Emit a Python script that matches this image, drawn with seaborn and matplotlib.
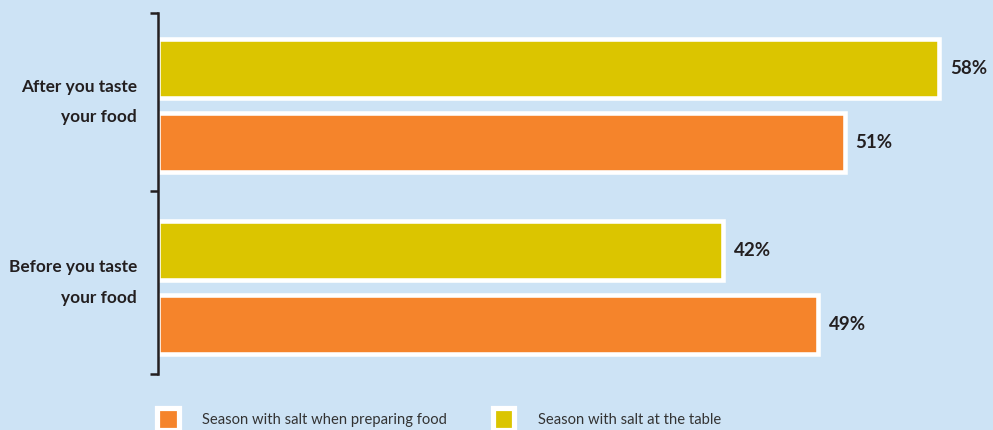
import matplotlib
matplotlib.use("Agg")
import matplotlib.pyplot as plt
import seaborn as sns
import pandas as pd
from matplotlib.patches import Patch

# Survey data: share of respondents (%) per salting habit
questions = ["After you taste\nyour food", "Before you taste\nyour food"]
at_the_table = [58, 42]
when_preparing = [51, 49]
habit_names = ["Season with salt when preparing food", "Season with salt at the table"]

df = pd.DataFrame({
    "question": questions * 2,
    "share": at_the_table + when_preparing,
    "habit": [habit_names[1]] * 2 + [habit_names[0]] * 2,
})

BG = "#cde3f5"
ORANGE = "#f5842b"
YELLOW = "#dbc500"
INK = "#231f20"

sns.set_theme(style="white")
plt.rcParams["font.family"] = ["Lato", "DejaVu Sans"]

W, H = 993, 430
fig = plt.figure(figsize=(W / 100, H / 100), dpi=100, facecolor=BG)
ax = fig.add_axes([157.5 / W, (H - 374) / H, 835.5 / W, 361 / H])
ax.set_facecolor(BG)

sns.barplot(
    data=df, y="question", x="share", hue="habit", order=questions,
    hue_order=[habit_names[1], habit_names[0]], palette=[YELLOW, ORANGE],
    saturation=1, orient="h", width=0.82, gap=0.21, errorbar=None,
    edgecolor="white", linewidth=3.3, legend=False, ax=ax,
)

for container in ax.containers:
    ax.bar_label(container, fmt="{:.0f}%", padding=7.8, fontsize=13.5,
                 fontweight="bold", color=INK)

ax.set_xlim(0, 62)
ylim_top, ylim_bottom = -0.5085, 1.476
ax.set_ylim(ylim_bottom, ylim_top)

# bracket ticks at the group boundaries, labels centred between them
bounds = [ylim_top, 0.47, ylim_bottom]
centers = [(bounds[i] + bounds[i + 1]) / 2 for i in range(2)]
ax.set_yticks(bounds, [""] * 3)
ax.set_yticks(centers, questions, minor=True)
ax.tick_params(axis="y", which="major", length=5.8, width=1.8, color=INK,
               direction="out", left=True)
ax.tick_params(axis="y", which="minor", length=0, pad=14.8, labelsize=12.4,
               labelcolor=INK)
for lbl in ax.get_yticklabels(minor=True):
    lbl.set_fontweight("bold")
    lbl.set_linespacing(2.1)
    lbl.set_verticalalignment("center")

ax.set_xticks([])
ax.set_xlabel("")
ax.set_ylabel("")
for side in ["top", "right", "bottom"]:
    ax.spines[side].set_visible(False)
ax.spines["left"].set_color(INK)
ax.spines["left"].set_linewidth(1.8)

# legend, one entry per series
for name, color, x0 in [(habit_names[0], ORANGE, 157), (habit_names[1], YELLOW, 492.6)]:
    fig.legend(
        handles=[Patch(facecolor=color, edgecolor="white", linewidth=3.75)],
        labels=[name], loc="upper left", bbox_to_anchor=(x0 / W, 1 - 408.3 / H),
        frameon=False, borderpad=0, borderaxespad=0, handlelength=1.48,
        handleheight=1.9, handletextpad=1.6, fontsize=10.6, labelcolor="#333333",
    )

fig.savefig("out.png", dpi=100, facecolor=BG)
